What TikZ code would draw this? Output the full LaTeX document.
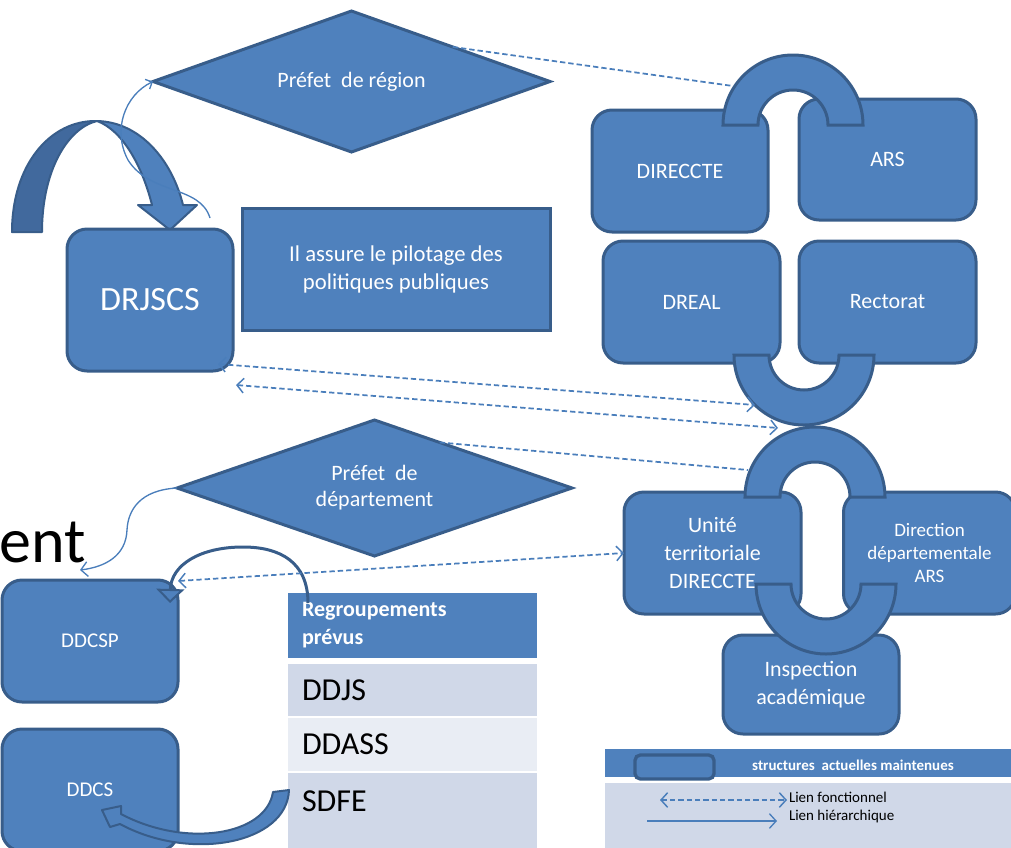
\documentclass[tikz,border=0pt]{standalone}
\usepackage{fontspec}
\setmainfont{Carlito}
\usetikzlibrary{shapes.geometric,arrows.meta,calc}
\definecolor{mblue}{HTML}{4F81BD}
\definecolor{dblue}{HTML}{385D8A}
\definecolor{shadeblue}{HTML}{41699D}
\definecolor{lnblue}{HTML}{4A7EBB}
\definecolor{rowA}{HTML}{D0D8E8}
\definecolor{rowB}{HTML}{E9EDF4}
\tikzset{
  every node/.style={inner sep=0pt, outer sep=0pt},
  rbox/.style={draw=dblue, line width=2.25pt, fill=mblue, rounded corners=15pt, text=white, align=center, font=\fontsize{16.5pt}{21pt}\selectfont},
  sqbox/.style={draw=dblue, line width=2.25pt, fill=mblue, text=white, align=center, font=\fontsize{17pt}{21pt}\selectfont},
  dia/.style={diamond, shape aspect=2.85, draw=dblue, line width=2.25pt, fill=mblue, text=white, align=center, font=\fontsize{16.5pt}{19.5pt}\selectfont},
  ring/.style={draw=dblue, line width=2.25pt, fill=mblue, line join=miter},
  fct/.style={draw=lnblue, line width=1.3pt, dash pattern=on 4pt off 2.25pt, >={Straight Barb[length=5pt,width=11pt,line width=1.1pt]}},
  hier/.style={draw=lnblue, line width=1pt, >={Straight Barb[length=5pt,width=11pt,line width=1pt]}},
  tabrow/.style={minimum width=186.75pt, text width=165.75pt, inner xsep=10.5pt, align=left, font=\fontsize{24pt}{26pt}\selectfont},
  lgtext/.style={font=\fontsize{11.25pt}{13pt}\selectfont, text=black}
}
\begin{document}
\begin{tikzpicture}[x=0.75pt,y=-0.75pt]
\useasboundingbox (0,0) rectangle (1011,847);

% partial title text
\node[anchor=base east, font=\fontsize{48pt}{50pt}\selectfont] (ment) at (86,562) {ment};

% big curved arrow (top left)
\filldraw[fill=shadeblue, draw=dblue, line width=1.5pt, line join=round]
  (12,232) .. controls (12,165) and (50,120) .. (97,121)
  .. controls (68,128) and (42,170) .. (42,232) -- cycle;
\filldraw[fill=mblue, draw=dblue, line width=1.5pt, line join=round]
  (97,121) .. controls (140,122) and (172,160) .. (183,205) -- (197,205) -- (170,230)
  -- (138,205) -- (152,205) .. controls (142,165) and (122,130) .. (97,121) -- cycle;

% region level
\node[rbox, minimum width=124.5pt, minimum height=106.5pt, font=\fontsize{25.5pt}{30pt}\selectfont] (drjscs) at (150,300) {DRJSCS};
\node[sqbox, minimum width=231pt, minimum height=91.5pt] (pilot) at (396,269) {Il assure le pilotage des\\politiques publiques};
\node[dia, minimum width=297.75pt, minimum height=105.75pt] (pr) at (351.5,81.5) {Préfet\ \ de région};

% right cluster (region)
\node[rbox, minimum width=132pt, minimum height=91.5pt] (direccte) at (680,171) {DIRECCTE};
\node[rbox, minimum width=132.75pt, minimum height=90.75pt] (ars) at (887.5,159.5) {ARS};
\node[rbox, minimum width=132.75pt, minimum height=91.5pt] (dreal) at (691.5,302) {DREAL};
\node[rbox, minimum width=132.75pt, minimum height=91.5pt] (rectorat) at (887.5,302) {Rectorat};
\path[ring] (723,125) arc[start angle=180, end angle=0, radius=52.5pt] -- ++(-35,0)
  arc[start angle=0, end angle=180, radius=26.25pt] -- cycle;
\path[ring] (734,355) arc[start angle=180, end angle=360, radius=52.5pt] -- ++(-35,0)
  arc[start angle=360, end angle=180, radius=26.25pt] -- cycle;

% department level
\node[dia, minimum width=296.25pt, minimum height=102pt] (pd) at (374.5,488) {Préfet\ \ de\\département};
\node[rbox, minimum width=132.75pt, minimum height=91.5pt] (ut) at (712.5,553) {Unité\\territoriale\\DIRECCTE};
\node[rbox, minimum width=129pt, minimum height=91.5pt, font=\fontsize{14.25pt}{17pt}\selectfont] (dda) at (929.5,553) {Direction\\départementale\\ARS};
\node[rbox, minimum width=132pt, minimum height=74.25pt] (ia) at (811,684.5) {Inspection\\académique};
\path[ring] (745,497) arc[start angle=180, end angle=0, radius=52.5pt] -- ++(-35,0)
  arc[start angle=0, end angle=180, radius=26.25pt] -- cycle;
\path[ring] (756,584) arc[start angle=180, end angle=360, radius=52.5pt] -- ++(-35,0)
  arc[start angle=360, end angle=180, radius=26.25pt] -- cycle;

\node[rbox, minimum width=132pt, minimum height=91.5pt, font=\fontsize{15.75pt}{19pt}\selectfont] (ddcsp) at (90,641) {DDCSP};
\node[rbox, minimum width=132pt, minimum height=91.5pt, font=\fontsize{15.75pt}{19pt}\selectfont] (ddcs) at (90,790) {DDCS};

% table
\node[tabrow, fill=mblue, minimum height=48.75pt, text=white, font=\bfseries\fontsize{16.5pt}{21pt}\selectfont] (hdr) at (412.5,625.5) {Regroupements\\prévus};
\node[tabrow, fill=rowA, minimum height=39pt] (ddjs) at (412.5,690) {DDJS};
\node[tabrow, fill=rowB, minimum height=39.75pt] (ddass) at (412.5,744.5) {DDASS};
\node[tabrow, fill=rowA, minimum height=42pt] (sdfe) at (412.5,801) {SDFE};
\fill[rowA] (sdfe.south west) rectangle (537,852);

% legend
\fill[mblue] (605,749) rectangle (1015,777);
\node[draw=dblue, line width=2.5pt, fill=mblue, rounded corners=4pt, minimum width=59.25pt, minimum height=18pt] (lgbox) at (674.5,767) {};
\node[text=white, font=\bfseries\fontsize{11.25pt}{13pt}\selectfont] (lgtitle) at (853,765) {structures\ \ actuelles maintenues};
\fill[rowA] (605,783) rectangle (1015,852);
\coordinate (lf1) at (660,800);
\coordinate (lf2) at (787,800);
\draw[fct,<->] (lf1) -- (lf2);
\node[lgtext, anchor=west] (lft) at (789,797) {Lien fonctionnel};
\coordinate (lh1) at (647,821);
\coordinate (lh2) at (777,821);
\draw[hier,->] (lh1) -- (lh2);
\node[lgtext, anchor=west] (lht) at (789,816) {Lien hiérarchique};

% thick curved arrows (bottom left)
\coordinate (hs) at (308,603);
\coordinate (he) at (170,603);
\draw[dblue, line width=2.25pt, -{Triangle[length=10.5pt,width=21pt,fill=mblue,line width=1.5pt]}]
  (hs) .. controls (308,562) and (280,547) .. (243,547) .. controls (200,547) and (171,565) .. (he);
\filldraw[fill=mblue, draw=dblue, line width=1.5pt, line join=round]
  (273,792) -- (289,790) .. controls (287,844) and (190,862) .. (120,824)
  -- (110,827) -- (102,810) -- (121,806) -- (121,814)
  .. controls (185,848) and (266,836) .. (273,792) -- cycle;

% thin hierarchical curves
\coordinate (c1) at (210,218);
\draw[hier, -{Straight Barb[length=4pt,width=8pt]}] (c1) .. controls (200,185) and (150,195) .. (128,160)
  .. controls (112,130) and (125,95) .. (pr.west);
\coordinate (c2) at (80,570);
\draw[hier,->] (pd.west) .. controls (140,490) and (128,510) .. (127,530)
  .. controls (126,556) and (105,567) .. (c2);

% functional dashed links
\coordinate (d0a) at ($(pr.north)!0.51!(pr.east)$);
\coordinate (d0b) at (733,86);
\draw[fct] (d0a) -- (d0b);
\coordinate (d1a) at (218,364);
\coordinate (d1b) at (755,405);
\draw[fct,<->] (d1a) -- (d1b);
\coordinate (d2a) at (236,385);
\coordinate (d2b) at (778,428);
\draw[fct,<->] (d2a) -- (d2b);
\coordinate (d3a) at ($(pd.north)!0.33!(pd.east)$);
\coordinate (d3b) at (748,470);
\draw[fct] (d3a) -- (d3b);
\coordinate (d4a) at (178,581);
\draw[fct,<->] (d4a) -- (ut.west);
\end{tikzpicture}
\end{document}
